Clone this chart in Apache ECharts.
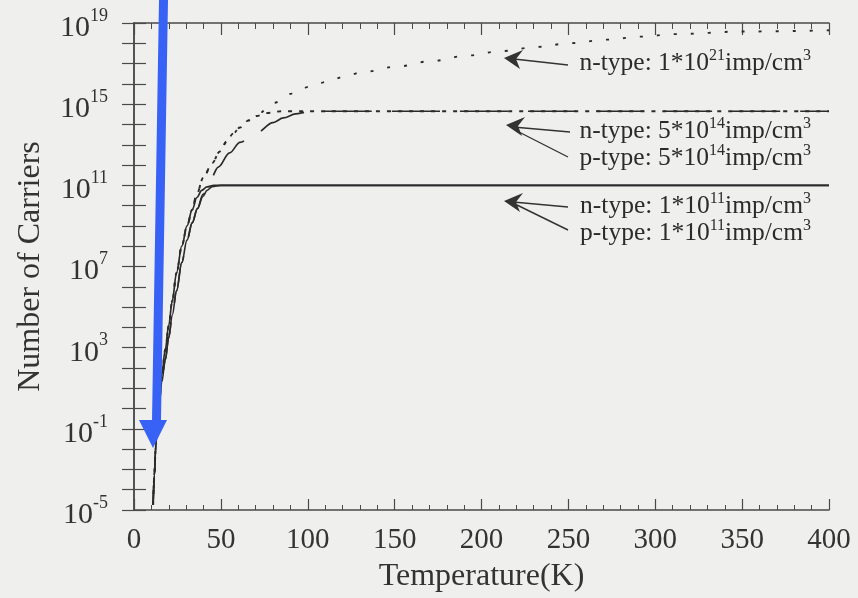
<!DOCTYPE html>
<html>
<head>
<meta charset="utf-8">
<script src="https://cdn.jsdelivr.net/npm/echarts@6/dist/echarts.min.js"></script>
<style>
html,body{margin:0;padding:0;background:#efefee;}
#chart{width:858px;height:598px;}
</style>
</head>
<body>
<div id="chart"></div>
<script>
// ---- Data (temperature in K, carriers as log10 exponent) ----
var xTicks = [0, 50, 100, 150, 200, 250, 300, 350, 400];
var yTickExponents = [-5, -1, 3, 7, 11, 15, 19];

var nType1e11T   = [11, 11.7, 12.5, 13.4, 14.5, 16, 18, 20, 22, 24.5, 27.5, 30.5, 33.5, 36.2, 39, 42, 46, 400];
var nType1e11Exp = [-4.75, -3.3, -1.9, -0.6, 0.5, 1.7, 2.9, 4.1, 5.3, 6.7, 8.0, 9.0, 9.8, 10.4, 10.75, 10.92, 11.0, 11.0];

var pType1e11T   = [11, 11.7, 12.5, 13.4, 14.5, 16, 18, 20, 22, 24.5, 27.5, 30.5, 33.5, 36.5, 39.7, 42, 45, 50, 400];
var pType1e11Exp = [-4.75, -3.3, -1.95, -0.75, 0.25, 1.3, 2.4, 3.5, 4.6, 5.8, 7.2, 8.3, 9.15, 9.85, 10.45, 10.75, 10.93, 11.0, 11.0];

var nType5e14T   = [11, 11.7, 12.5, 13.4, 14.5, 16, 18, 20, 22, 24.5, 27.5, 30.5, 33.5, 36, 40, 45, 49.4, 53.4, 57, 61, 66, 70.7, 76, 85, 400];
var nType5e14Exp = [-4.75, -3.3, -1.9, -0.6, 0.5, 1.7, 2.9, 4.1, 5.3, 6.7, 8.0, 9.0, 9.8, 10.55, 11.4, 12.1, 12.67, 13.16, 13.55, 13.85, 14.2, 14.42, 14.56, 14.65, 14.65];

var pType5e14T   = [11, 11.7, 12.5, 13.4, 14.5, 16, 18, 20, 22, 24.5, 27.5, 30.5, 33.5, 36.5, 39.7, 44, 48.5, 55, 61, 70.7, 80, 86, 93, 100, 110, 400];
var pType5e14Exp = [-4.75, -3.3, -1.95, -0.75, 0.25, 1.3, 2.4, 3.5, 4.6, 5.8, 7.2, 8.3, 9.15, 9.85, 10.55, 11.3, 11.9, 12.6, 13.12, 13.6, 14.09, 14.32, 14.52, 14.62, 14.65, 14.65];

var nType1e21T   = [11, 11.7, 12.5, 13.4, 14.5, 16, 18, 20, 22, 24.5, 27.5, 30.5, 33.5, 36, 40, 45, 49.4, 53.4, 57, 61, 66, 70.7, 80.5, 90.8, 101, 111, 120.7, 131.6, 151.7, 171.8, 192, 212, 231.6, 251.7, 271.8, 292, 311, 350, 400];
var nType1e21Exp = [-4.75, -3.3, -1.9, -0.6, 0.5, 1.7, 2.9, 4.1, 5.3, 6.7, 8.0, 9.0, 9.8, 10.55, 11.4, 12.1, 12.67, 13.16, 13.55, 13.85, 14.2, 14.48, 15.07, 15.52, 15.86, 16.1, 16.35, 16.58, 16.86, 17.13, 17.4, 17.62, 17.82, 18.01, 18.18, 18.33, 18.45, 18.58, 18.64];

function pairs(ts, es) {
  return ts.map(function (t, i) { return [t, Math.pow(10, es[i])]; });
}

var ink = '#2b2b2b';
var serif = '"Liberation Serif", "DejaVu Serif", serif';

var chart = echarts.init(document.getElementById('chart'), null, {renderer: 'canvas'});

function supLabel(v) {
  var e = Math.round(Math.log10(v));
  if (yTickExponents.indexOf(e) < 0) return '';
  return '{b|10}{s|' + e + '}';
}

var yLabelRich = {
  b: {fontSize: 30, fontFamily: serif, color: '#333', lineHeight: 36, verticalAlign: 'bottom'},
  s: {fontSize: 18, fontFamily: serif, color: '#333', lineHeight: 17, verticalAlign: 'top'}
};

function lineSeries(name, ts, es, type, width) {
  return {
    name: name, type: 'line', xAxisIndex: 0, yAxisIndex: 0,
    data: pairs(ts, es), showSymbol: false, symbol: 'none',
    smooth: 0.35, smoothMonotone: 'x',
    lineStyle: {color: ink, width: width, type: type},
    z: 3, silent: true
  };
}

var annRich = {
  a: {fontSize: 25.5, fontFamily: serif, fill: '#2b2b2b', lineHeight: 28, verticalAlign: 'bottom'},
  s: {fontSize: 16, fontFamily: serif, fill: '#2b2b2b', lineHeight: 15, verticalAlign: 'top'}
};

function annText(label, exp, yCenter) {
  return {
    type: 'text', x: 811, y: yCenter, z: 20,
    style: {
      text: '{a|' + label + '}{s|' + exp + '}{a|imp/cm}{s|3}',
      rich: annRich, align: 'right', verticalAlign: 'middle'
    }
  };
}

function arrowLine(x1, y1, x2, y2) {
  return {type: 'line', z: 20, shape: {x1: x1, y1: y1, x2: x2, y2: y2},
          style: {stroke: '#333', lineWidth: 1.4}};
}

function arrowHead(tx, ty) {
  return {type: 'polygon', z: 21,
          shape: {points: [[tx, ty], [tx + 19, ty - 8], [tx + 12, ty + 1], [tx + 16, ty + 11]]},
          style: {fill: '#333'}};
}

var graphics = [
  annText('n-type: 1*10', '21', 62),
  annText('n-type: 5*10', '14', 130),
  annText('p-type: 5*10', '14', 157),
  annText('n-type: 1*10', '11', 205),
  annText('p-type: 1*10', '11', 232),
  arrowLine(568, 65, 514, 59), arrowHead(504, 58),
  arrowLine(570, 132, 513, 127), arrowLine(568, 157, 515, 130), arrowHead(506, 125),
  arrowLine(568, 207, 513, 202), arrowLine(568, 230, 517, 205), arrowHead(504, 201),
  // blue annotation arrow
  {type: 'polygon', z: 50,
   shape: {points: [[159, 0], [168, 0], [161, 420], [167, 420], [153, 448], [139, 420], [152, 420]]},
   style: {fill: '#3862f5'}}
];

var option = {
  backgroundColor: '#efefee',
  animation: false,
  grid: {left: 134, right: 29, top: 23, bottom: 86, containLabel: false},
  xAxis: [
    {
      type: 'value', min: 0, max: 400, interval: 50, position: 'bottom',
      name: 'Temperature(K)', nameLocation: 'middle', nameGap: 51,
      nameTextStyle: {fontFamily: serif, fontSize: 32, color: '#333'},
      axisLine: {show: true, lineStyle: {color: '#4a4a4a', width: 1.5}},
      axisTick: {show: true, inside: true, length: 11, lineStyle: {color: '#4a4a4a', width: 1.2}},
      minorTick: {show: true, splitNumber: 5, length: 5, lineStyle: {color: '#4a4a4a', width: 1}},
      axisLabel: {show: true, margin: 16, fontFamily: serif, fontSize: 29, color: '#333',
                  formatter: function (v) { return xTicks.indexOf(v) >= 0 ? String(v) : ''; }},
      splitLine: {show: false}
    },
    {
      type: 'value', min: 0, max: 400, interval: 50, position: 'top',
      axisLine: {show: true, lineStyle: {color: '#4a4a4a', width: 1.5}},
      axisTick: {show: true, inside: true, length: 12, lineStyle: {color: '#4a4a4a', width: 1.2}},
      minorTick: {show: true, splitNumber: 5, length: 6, lineStyle: {color: '#4a4a4a', width: 1}},
      axisLabel: {show: false}, splitLine: {show: false}
    }
  ],
  yAxis: [
    {
      type: 'log', logBase: 10, min: 1e-5, max: 1e19, interval: 1, position: 'left',
      name: 'Number of Carriers', nameLocation: 'middle', nameGap: 87, nameRotate: 90,
      nameTextStyle: {fontFamily: serif, fontSize: 32, color: '#333'},
      axisLine: {show: true, lineStyle: {color: '#4a4a4a', width: 1.5}},
      axisTick: {show: true, inside: true, length: 12, interval: 0, lineStyle: {color: '#4a4a4a', width: 1.2}},
      minorTick: {show: false},
      axisLabel: {show: true, interval: 0, margin: 26, hideOverlap: false,
                  showMinLabel: true, showMaxLabel: true, padding: [4, 0, 0, 0],
                  formatter: supLabel, rich: yLabelRich},
      splitLine: {show: false}
    },
    {
      type: 'log', logBase: 10, min: 1e-5, max: 1e19, interval: 1, position: 'right',
      axisLine: {show: true, lineStyle: {color: '#4a4a4a', width: 1.5}},
      axisTick: {show: true, inside: true, length: 12, interval: 0, lineStyle: {color: '#4a4a4a', width: 1.2}},
      minorTick: {show: false},
      axisLabel: {show: false}, splitLine: {show: false}
    }
  ],
  series: [
    lineSeries('n-type: 1*10^11 imp/cm^3', nType1e11T, nType1e11Exp, 'solid', 1.7),
    lineSeries('p-type: 1*10^11 imp/cm^3', pType1e11T, pType1e11Exp, 'solid', 1.6),
    lineSeries('n-type: 5*10^14 imp/cm^3', nType5e14T, nType5e14Exp, [4, 7], 1.9),
    lineSeries('p-type: 5*10^14 imp/cm^3', pType5e14T, pType5e14Exp, [48, 20], 1.7),
    lineSeries('n-type: 1*10^21 imp/cm^3', nType1e21T, nType1e21Exp, [3, 14], 1.9)
  ],
  graphic: graphics
};

chart.setOption(option);
</script>
</body>
</html>
